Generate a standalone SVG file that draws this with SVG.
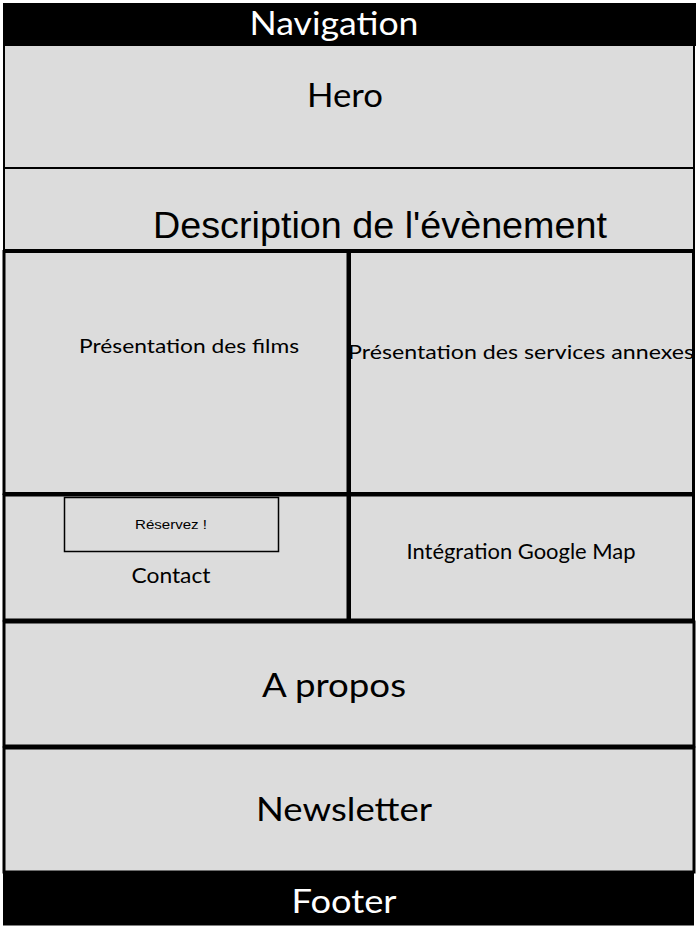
<svg xmlns="http://www.w3.org/2000/svg" width="700" height="931" viewBox="0 0 700 931">
<style>
.box{fill:#dcdcdc;stroke:#000;stroke-width:2}
.bar{fill:#000;stroke:#000;stroke-width:1}
.t{font-family:Lato,"Open Sans","Liberation Sans",sans-serif;fill:#000;text-anchor:middle}
.w{fill:#fff}
.a{font-family:"Liberation Sans",Arial,sans-serif;fill:#000;text-anchor:middle}
</style>
<rect width="700" height="931" fill="#fff"/>
<g id="navigation">
<rect class="bar" x="3.5" y="3.5" width="692" height="42"/>
<text class="t w" x="334" y="35" font-size="33" textLength="169" lengthAdjust="spacingAndGlyphs">Navigation</text>
</g>
<g id="hero">
<rect class="box" x="4" y="45" width="690" height="123"/>
<text class="t" x="345" y="107" font-size="32" textLength="76" lengthAdjust="spacingAndGlyphs">Hero</text>
</g>
<g id="description">
<rect class="box" x="4" y="168" width="690" height="82"/>
<text class="a" x="380" y="238" font-size="36" textLength="454" lengthAdjust="spacingAndGlyphs">Description de l'évènement</text>
</g>
<g id="films">
<rect class="box" x="4" y="251.5" width="344" height="242" style="stroke-width:3"/>
<text class="t" x="189" y="353" font-size="20" textLength="220" lengthAdjust="spacingAndGlyphs">Présentation des films</text>
</g>
<g id="services">
<rect class="box" x="349.5" y="251.5" width="344" height="242" style="stroke-width:3"/>
<text class="t" x="521" y="359" font-size="20" textLength="346" lengthAdjust="spacingAndGlyphs">Présentation des services annexes</text>
</g>
<g id="contact">
<rect class="box" x="4" y="495" width="344" height="125" style="stroke-width:3"/>
<rect x="64.5" y="497.5" width="214" height="54" fill="none" stroke="#000" stroke-width="1.5"/>
<text class="a" x="171" y="529" font-size="13" textLength="72" lengthAdjust="spacingAndGlyphs">Réservez !</text>
<text class="t" x="171" y="583" font-size="21" textLength="79" lengthAdjust="spacingAndGlyphs">Contact</text>
</g>
<g id="map">
<rect class="box" x="349.5" y="495" width="344" height="125" style="stroke-width:3"/>
<text class="t" x="521" y="559" font-size="21" textLength="229" lengthAdjust="spacingAndGlyphs">Intégration Google Map</text>
</g>
<g id="apropos">
<rect class="box" x="4" y="622" width="690" height="124" style="stroke-width:3"/>
<text class="t" x="334" y="697" font-size="33" textLength="144" lengthAdjust="spacingAndGlyphs">A propos</text>
</g>
<g id="newsletter">
<rect class="box" x="4" y="748" width="690" height="124" style="stroke-width:3"/>
<text class="t" x="344" y="821" font-size="33" textLength="176" lengthAdjust="spacingAndGlyphs">Newsletter</text>
</g>
<g id="footer">
<rect class="bar" x="3.5" y="872" width="690" height="53"/>
<text class="t w" x="344" y="913" font-size="33" textLength="105" lengthAdjust="spacingAndGlyphs">Footer</text>
</g>
<g id="connectors"></g>
</svg>
